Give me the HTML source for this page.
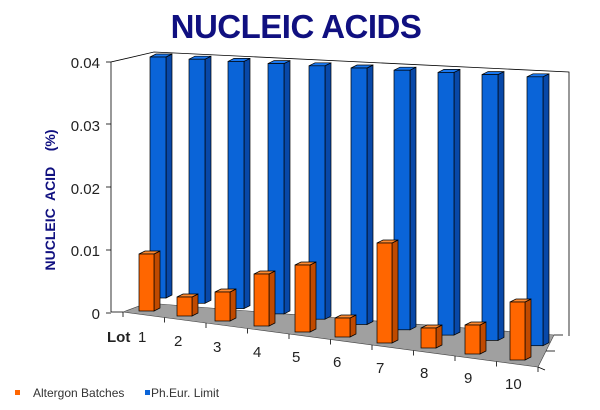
<!DOCTYPE html>
<html><head><meta charset="utf-8"><style>
html,body{margin:0;padding:0;background:#fff;}
svg{display:block;font-family:"Liberation Sans",Arial,sans-serif;}
</style></head><body>
<svg id="s" width="600" height="410" viewBox="0 0 600 410" xmlns="http://www.w3.org/2000/svg">
<text x="296" y="38" text-anchor="middle" font-size="33" font-weight="bold" fill="#101080" letter-spacing="-0.5">NUCLEIC ACIDS</text>
<polyline points="111,312 111,62 154,52 569,72 569,336" fill="none" stroke="#000" stroke-width="0.8"/>
<polygon points="123,312 147,303 554,335 538,367" fill="#a0a0a0" stroke="#444" stroke-width="0.6"/>
<line x1="111" y1="312" x2="123" y2="312" stroke="#000" stroke-width="0.8"/>
<g stroke="#000" stroke-width="0.8">
<line x1="106" y1="62" x2="111" y2="62"/><line x1="106" y1="124" x2="111" y2="124"/>
<line x1="106" y1="187" x2="111" y2="187"/><line x1="106" y1="250" x2="111" y2="250"/>
<line x1="106" y1="313" x2="111" y2="313"/>
<line x1="554" y1="335" x2="563" y2="335"/><line x1="546" y1="351" x2="555" y2="351"/><line x1="538" y1="367" x2="545" y2="370"/>
</g>
<g font-size="15" fill="#222" text-anchor="end">
<text x="100" y="68">0.04</text><text x="100" y="131">0.03</text><text x="100" y="194">0.02</text>
<text x="100" y="256">0.01</text><text x="100" y="319">0</text>
</g>
<text transform="translate(55,200) rotate(-90)" text-anchor="middle" font-size="14" font-weight="bold" fill="#101080" xml:space="preserve">NUCLEIC  ACID    (%)</text>
<g id="bars"></g>
<g font-size="15" fill="#222">
<text x="107" y="342" font-weight="bold">Lot</text><text x="138" y="342">1</text>
<text x="174" y="346">2</text><text x="213" y="352">3</text><text x="253" y="357">4</text>
<text x="292" y="362">5</text><text x="333" y="367">6</text><text x="376" y="373">7</text>
<text x="420" y="378">8</text><text x="464" y="383">9</text><text x="505" y="389">10</text>
</g>
<rect x="15" y="390" width="5" height="5" fill="#ff6600"/>
<text x="33" y="397" font-size="12" fill="#333">Altergon Batches</text>
<rect x="145" y="390" width="5" height="5" fill="#0a64d8"/>
<text x="151" y="397" font-size="12" fill="#333">Ph.Eur. Limit</text>
</svg>
<script>
var g=document.getElementById('bars'),h='';
function bar(x,top,bot,w,c1,c2,c3){
 var d=6,u=3;
 h+='<polygon points="'+(x+w)+','+bot+' '+(x+w+d)+','+(bot-u)+' '+(x+w+d)+','+(top-u)+' '+(x+w)+','+top+'" fill="'+c2+'" stroke="#000" stroke-width="0.7"/>';
 h+='<polygon points="'+x+','+top+' '+(x+d)+','+(top-u)+' '+(x+w+d)+','+(top-u)+' '+(x+w)+','+top+'" fill="'+c3+'" stroke="#000" stroke-width="0.7"/>';
 h+='<rect x="'+x+'" y="'+top+'" width="'+w+'" height="'+(bot-top)+'" fill="'+c1+'" stroke="#000" stroke-width="0.7"/>';
}
var bx=[150,189,228,268,309,351,394,438,482,527];
for(var i=0;i<10;i++){bar(bx[i],57+i*2.2,298+i*5.3,16,'#0a64d8','#0848a8','#1a78f0');}
var ox=[139,177,215,254,295,335,377,421,465,510],ot=[254,297,292,274,265,318,243,328,325,302],ob=[311,316,321,326,332,337,343,348,354,360];
for(var i=0;i<10;i++){bar(ox[i],ot[i],ob[i],15,'#ff6600','#c04a00','#ff8a30');}
g.innerHTML=h;
var t='';for(var i=0;i<11;i++){var x=123+i*41.5,y=312+i*5.5;t+='<line x1="'+x+'" y1="'+y+'" x2="'+x+'" y2="'+(y+5)+'" stroke="#000" stroke-width="0.8"/>';}
g.insertAdjacentHTML('beforeend',t);
</script>
</body></html>
